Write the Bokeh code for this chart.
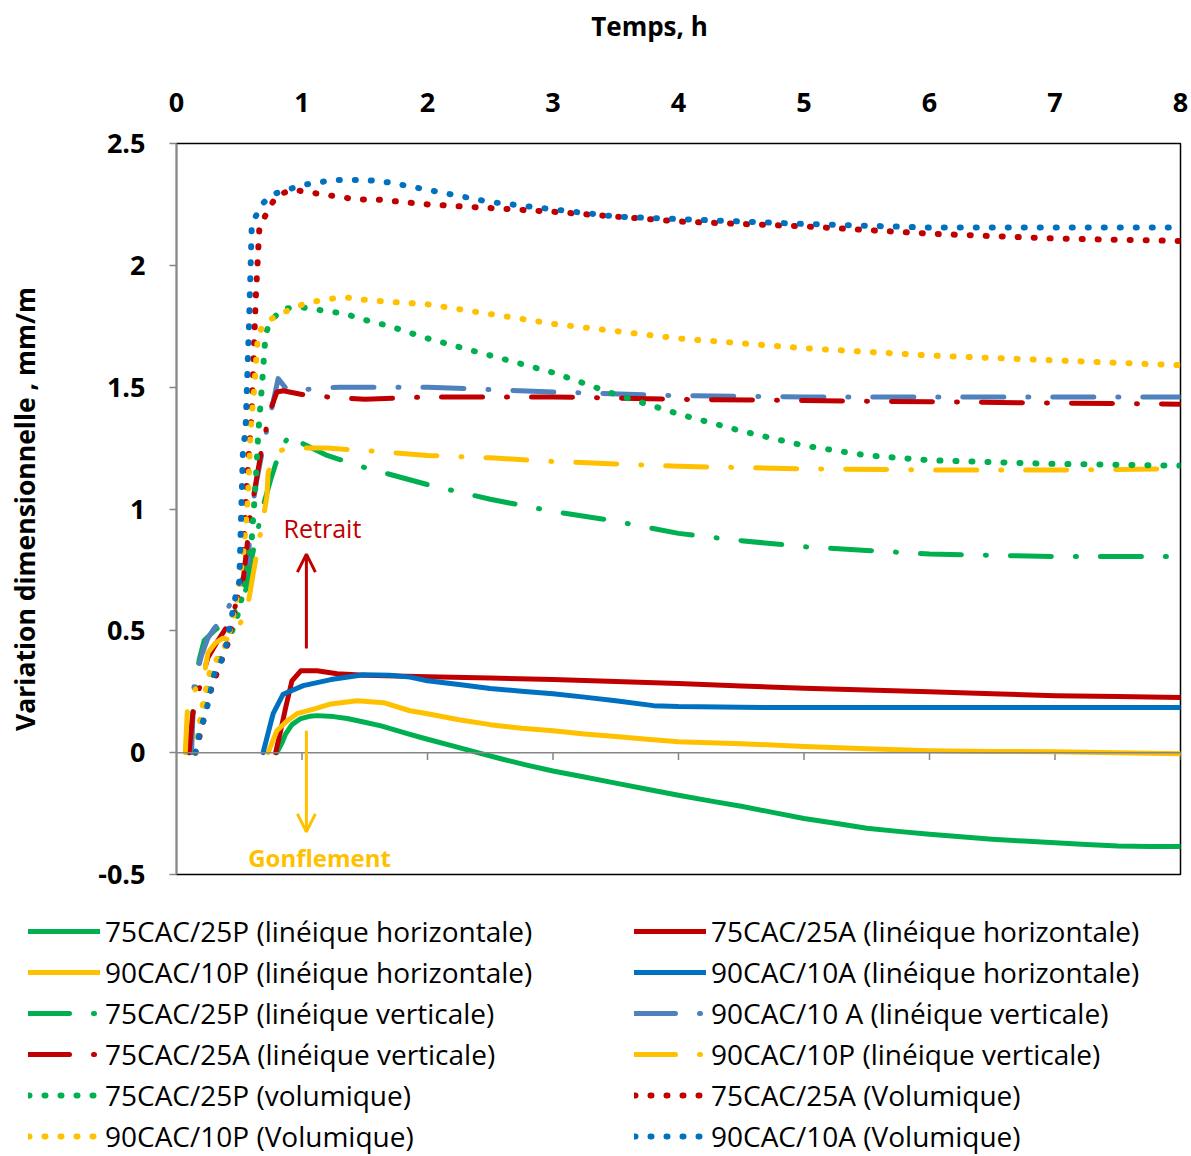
from bokeh.plotting import figure
from bokeh.models import (Range1d, FixedTicker, Span, Arrow, OpenHead, Label,
                          Legend, LegendItem, NumeralTickFormatter)
from bokeh.embed import file_html
from bokeh.resources import INLINE

# ---------------- data ----------------
X_TICKS = [0, 1, 2, 3, 4, 5, 6, 7, 8]
Y_TICKS = [-0.5, 0, 0.5, 1, 1.5, 2, 2.5]

# linear horizontal (solid)
t_25P_h = [0.80, 0.84, 0.87, 0.92, 0.99, 1.06, 1.12, 1.25, 1.36, 1.5, 1.63, 1.86, 2.0, 2.2, 2.4, 2.6, 2.8, 3.0,
           3.25, 3.5, 3.75, 4.0, 4.25, 4.5, 4.75, 5.0, 5.25, 5.5, 5.75, 6.0, 6.25, 6.5, 6.75, 7.0, 7.25, 7.5, 7.75, 8.0]
v_25P_h = [0.0, 0.04, 0.077, 0.115, 0.14, 0.149, 0.152, 0.148, 0.14, 0.125, 0.11, 0.075, 0.055, 0.028, 0.0, -0.027,
           -0.052, -0.075, -0.1, -0.125, -0.15, -0.175, -0.198, -0.22, -0.245, -0.27, -0.29, -0.31, -0.323, -0.335,
           -0.345, -0.355, -0.363, -0.37, -0.377, -0.383, -0.385, -0.385]

t_25A_h = [0.79, 0.83, 0.87, 0.92, 0.99, 1.12, 1.28, 1.5, 2.0, 2.5, 3.0, 3.5, 4.0, 4.5, 5.0, 5.5, 6.0, 6.5, 7.0, 7.5, 8.0]
v_25A_h = [0.0, 0.09, 0.185, 0.295, 0.336, 0.336, 0.324, 0.318, 0.312, 0.306, 0.3, 0.292, 0.284, 0.274, 0.264,
           0.257, 0.25, 0.242, 0.234, 0.23, 0.226]

t_10P_h = [0.73, 0.8, 0.88, 0.96, 1.1, 1.23, 1.44, 1.65, 1.86, 2.0, 2.25, 2.5, 2.75, 3.0, 3.25, 3.5, 3.75, 4.0,
           4.5, 5.0, 5.5, 6.0, 6.5, 7.0, 7.5, 8.0]
v_10P_h = [0.0, 0.09, 0.13, 0.16, 0.18, 0.2, 0.213, 0.205, 0.172, 0.16, 0.135, 0.115, 0.1, 0.09, 0.077, 0.066,
           0.055, 0.045, 0.037, 0.025, 0.016, 0.008, 0.005, 0.004, 0.0, -0.004]

t_10A_h = [0.69, 0.73, 0.77, 0.85, 1.01, 1.23, 1.49, 1.7, 1.86, 2.0, 2.25, 2.5, 2.75, 3.0, 3.25, 3.5, 3.8, 4.0,
           4.5, 5.0, 6.0, 7.0, 8.0]
v_10A_h = [0.0, 0.08, 0.16, 0.24, 0.275, 0.3, 0.32, 0.318, 0.31, 0.295, 0.28, 0.263, 0.252, 0.242, 0.228, 0.213,
           0.193, 0.189, 0.186, 0.185, 0.185, 0.185, 0.185]

# linear vertical (dash-dot)
t_25P_v = [0.1, 0.14, 0.18, 0.22, 0.3, 0.4, 0.5, 0.56, 0.6, 0.65, 0.7, 0.75, 0.8, 0.86, 0.91, 1.0, 1.2, 1.5, 2.0,
           2.5, 3.0, 3.5, 4.0, 4.5, 5.0, 5.5, 6.0, 6.5, 7.0, 8.0]
v_25P_v = [0.0, 0.22, 0.38, 0.46, 0.5, 0.54, 0.6, 0.68, 0.8, 0.92, 1.03, 1.12, 1.2, 1.27, 1.31, 1.27, 1.22, 1.17,
           1.1, 1.04, 0.99, 0.95, 0.9, 0.87, 0.845, 0.83, 0.815, 0.81, 0.805, 0.805]

t_10A_v = [0.12, 0.14, 0.2, 0.25, 0.3, 0.35, 0.45, 0.57, 0.59, 0.64, 0.7, 0.75, 0.81, 0.88, 1.0, 1.3, 2.0, 2.5,
           3.0, 4.0, 5.0, 6.0, 7.0, 8.0]
v_10A_v = [0.0, 0.28, 0.4, 0.47, 0.51, 0.54, 0.63, 0.76, 0.96, 1.12, 1.28, 1.39, 1.535, 1.49, 1.49, 1.5, 1.5,
           1.49, 1.48, 1.465, 1.46, 1.46, 1.46, 1.46]

t_25A_v = [0.1, 0.13, 0.19, 0.25, 0.33, 0.43, 0.53, 0.59, 0.62, 0.68, 0.75, 0.8, 0.85, 1.0, 1.2, 1.5, 2.0, 3.0,
           4.0, 5.0, 6.0, 7.0, 8.0]
v_25A_v = [0.0, 0.16, 0.28, 0.39, 0.46, 0.54, 0.7, 0.98, 1.07, 1.25, 1.41, 1.48, 1.485, 1.47, 1.46, 1.45, 1.46,
           1.46, 1.45, 1.445, 1.44, 1.435, 1.43]

t_10P_v = [0.07, 0.09, 0.15, 0.215, 0.25, 0.31, 0.37, 0.43, 0.5, 0.57, 0.6, 0.63, 0.68, 0.72, 0.73, 0.78, 0.83,
           0.9, 1.2, 1.5, 2.0, 2.5, 3.0, 3.5, 4.0, 5.0, 6.0, 7.0, 8.0]
v_10P_v = [0.0, 0.21, 0.26, 0.3, 0.41, 0.45, 0.47, 0.46, 0.52, 0.61, 0.7, 0.79, 0.93, 1.05, 1.15, 1.21, 1.24,
           1.25, 1.25, 1.24, 1.22, 1.21, 1.195, 1.185, 1.175, 1.165, 1.16, 1.16, 1.165]

# volumetric (dotted)
t_25P_vol = [0.15, 0.18, 0.24, 0.32, 0.4, 0.48, 0.55, 0.6, 0.63, 0.65, 0.68, 0.71, 0.75, 0.84, 0.97, 1.09, 1.23,
             1.35, 1.47, 1.7, 2.0, 2.5, 3.0, 3.5, 4.0, 4.5, 5.0, 5.5, 6.0, 7.0, 8.0]
v_25P_vol = [0.0, 0.1, 0.25, 0.36, 0.44, 0.55, 0.7, 0.88, 1.1, 1.3, 1.5, 1.72, 1.77, 1.82, 1.83, 1.82, 1.81, 1.80,
             1.78, 1.75, 1.7, 1.63, 1.56, 1.47, 1.39, 1.32, 1.26, 1.22, 1.2, 1.185, 1.178]

t_10P_vol = [0.15, 0.21, 0.27, 0.33, 0.4, 0.47, 0.53, 0.57, 0.59, 0.62, 0.65, 0.72, 0.83, 0.95, 1.08, 1.2, 1.33,
             1.46, 1.7, 2.0, 2.5, 3.0, 3.5, 4.0, 4.5, 5.0, 6.0, 7.0, 8.0]
v_10P_vol = [0.0, 0.2, 0.34, 0.39, 0.45, 0.6, 0.8, 1.05, 1.32, 1.5, 1.72, 1.77, 1.80, 1.83, 1.85, 1.86, 1.87, 1.86,
             1.85, 1.84, 1.80, 1.76, 1.73, 1.70, 1.68, 1.66, 1.63, 1.61, 1.59]

t_25A_vol = [0.15, 0.2, 0.27, 0.33, 0.41, 0.48, 0.53, 0.56, 0.6, 0.63, 0.66, 0.74, 0.81, 0.93, 1.05, 1.18, 1.31,
             1.44, 1.6, 2.0, 2.5, 3.0, 3.5, 4.0, 4.5, 5.0, 5.5, 6.0, 6.5, 7.0, 7.5, 8.0]
v_25A_vol = [0.0, 0.1, 0.25, 0.34, 0.45, 0.62, 0.8, 1.1, 1.4, 1.85, 2.15, 2.24, 2.29, 2.31, 2.3, 2.29, 2.28, 2.27,
             2.27, 2.25, 2.235, 2.22, 2.2, 2.18, 2.17, 2.16, 2.145, 2.13, 2.12, 2.11, 2.105, 2.1]

t_10A_vol = [0.15, 0.18, 0.25, 0.3, 0.37, 0.4, 0.47, 0.5, 0.53, 0.55, 0.58, 0.6, 0.68, 0.76, 0.88, 1.01, 1.13,
             1.25, 1.39, 1.52, 1.7, 2.0, 2.5, 3.0, 3.5, 4.0, 5.0, 6.0, 7.0, 8.0]
v_10A_vol = [0.0, 0.07, 0.2, 0.32, 0.39, 0.45, 0.64, 0.7, 1.25, 1.32, 1.8, 2.17, 2.25, 2.29, 2.31, 2.33, 2.34,
             2.35, 2.35, 2.35, 2.34, 2.31, 2.26, 2.23, 2.2, 2.19, 2.17, 2.155, 2.155, 2.155]

LABELS = [
    "75CAC/25P (linéique horizontale)", "75CAC/25A (linéique horizontale)",
    "90CAC/10P (linéique horizontale)", "90CAC/10A (linéique horizontale)",
    "75CAC/25P (linéique verticale)", "90CAC/10 A (linéique verticale)",
    "75CAC/25A (linéique verticale)", "90CAC/10P (linéique verticale)",
    "75CAC/25P (volumique)", "75CAC/25A (Volumique)",
    "90CAC/10P (Volumique)", "90CAC/10A (Volumique)",
]
X_TITLE = "Temps, h"
Y_TITLE = "Variation dimensionnelle , mm/m"

GREEN, RED, YELLOW, BLUE, STEEL = "#00B050", "#C00000", "#FFC000", "#0070C0", "#4F81BD"
GREY = "#868686"
FONT = "Open Sans"
W = 1191

series = [
    (t_25P_h, v_25P_h, GREEN, "solid"), (t_25A_h, v_25A_h, RED, "solid"),
    (t_10P_h, v_10P_h, YELLOW, "solid"), (t_10A_h, v_10A_h, BLUE, "solid"),
    (t_25P_v, v_25P_v, GREEN, "dashdot"), (t_10A_v, v_10A_v, STEEL, "dashdot"),
    (t_25A_v, v_25A_v, RED, "dashdot"), (t_10P_v, v_10P_v, YELLOW, "dashdot"),
    (t_25P_vol, v_25P_vol, GREEN, "dot"), (t_25A_vol, v_25A_vol, RED, "dot"),
    (t_10P_vol, v_10P_vol, YELLOW, "dot"), (t_10A_vol, v_10A_vol, BLUE, "dot"),
]


def styled_line(fig, t, v, c, style):
    if style == "solid":
        return fig.line(t, v, line_color=c, line_width=5, line_cap="round", line_join="round")
    if style == "dashdot":
        return fig.line(t, v, line_color=c, line_width=5, line_cap="round", line_join="round",
                        line_dash="41 24 1 24")
    return fig.line(t, v, line_color=c, line_width=6, line_cap="round", line_join="round",
                    line_dash="1 15")


def blank(height):
    f = figure(width=W, height=height, x_range=Range1d(0, W), y_range=Range1d(height, 0),
               x_axis_location=None, y_axis_location=None, output_backend="svg",
               toolbar_location=None, min_border=0, title=None)
    f.grid.visible = False
    f.outline_line_color = None
    f.background_fill_color = "white"
    f.border_fill_color = "white"
    return f


# ---------------- header (x-axis title) ----------------
HEAD_H = 60
head = blank(HEAD_H)
head.add_layout(Label(x=649, y=25, text=X_TITLE, text_align="center", text_baseline="middle",
                      text_font=FONT, text_font_size="26px", text_font_style="bold", text_color="black"))

# ---------------- chart figure ----------------
p = figure(width=W, height=842, x_range=Range1d(0, 8), y_range=Range1d(-0.5, 2.5),
           x_axis_location="above", output_backend="svg", toolbar_location=None, title=None,
           min_border_left=176, min_border_right=11, min_border_top=83, min_border_bottom=28)
p.grid.visible = False
p.outline_line_color = "black"
p.outline_line_width = 1.5
p.background_fill_color = "white"
p.border_fill_color = "white"

xa = p.xaxis[0]
xa.ticker = FixedTicker(ticks=X_TICKS)
xa.major_tick_out = 0
xa.major_tick_in = 0
xa.minor_tick_line_color = None
xa.axis_line_color = None
xa.major_label_standoff = 32
xa.major_label_text_font = FONT
xa.major_label_text_font_size = "27px"
xa.major_label_text_font_style = "bold"
xa.major_label_text_color = "black"

ya = p.yaxis[0]
ya.ticker = FixedTicker(ticks=Y_TICKS)
ya.formatter = NumeralTickFormatter(format="0.[0]")
ya.axis_line_color = GREY
ya.axis_line_width = 1.5
ya.major_tick_line_color = GREY
ya.major_tick_line_width = 1.5
ya.major_tick_out = 7
ya.major_tick_in = 0
ya.minor_tick_line_color = None
ya.major_label_standoff = 24
ya.major_label_text_font = FONT
ya.major_label_text_font_size = "27px"
ya.major_label_text_font_style = "bold"
ya.major_label_text_color = "black"
ya.axis_label = Y_TITLE
ya.axis_label_standoff = 52
ya.axis_label_text_font = FONT
ya.axis_label_text_font_size = "26.5px"
ya.axis_label_text_font_style = "bold"
ya.axis_label_text_color = "black"

# zero line with its ticks
p.add_layout(Span(location=0, dimension="width", line_color=GREY, line_width=1.5))
zt = [t for t in X_TICKS if t > 0]
p.segment(x0=zt, y0=[0] * len(zt), x1=zt, y1=[-0.03] * len(zt), line_color=GREY, line_width=1.5)

for (t, v, c, style) in series:
    styled_line(p, t, v, c, style)

# annotations
ARROW_X = 1.035
p.add_layout(Arrow(end=OpenHead(line_color=RED, line_width=3, size=18),
                   x_start=ARROW_X, y_start=0.427, x_end=ARROW_X, y_end=0.815,
                   line_color=RED, line_width=3))
p.add_layout(Arrow(end=OpenHead(line_color=YELLOW, line_width=3, size=18),
                   x_start=ARROW_X, y_start=0.09, x_end=ARROW_X, y_end=-0.325,
                   line_color=YELLOW, line_width=3))
p.add_layout(Label(x=1.163, y=0.922, text="Retrait", text_align="center", text_baseline="middle",
                   text_font=FONT, text_font_size="25px", text_color=RED))
p.add_layout(Label(x=1.14, y=-0.432, text="Gonflement", text_align="center", text_baseline="middle",
                   text_font=FONT, text_font_size="24px", text_font_style="bold", text_color=YELLOW))

# ---------------- legend figure ----------------
LEG_H = 254
q = blank(LEG_H)
# legend samples: same styles, data lying outside the visible ranges
legend_renderers = [styled_line(q, [-20, -10], [-20, -10], c, style) for (_, _, c, style) in series]
items = [LegendItem(label=lab, renderers=[r]) for lab, r in zip(LABELS, legend_renderers)]
legend = Legend(items=items, location=(28, 1), orientation="horizontal", ncols=2,
                glyph_width=72, glyph_height=20, label_standoff=5, label_width=526, spacing=3,
                padding=0, margin=0, border_line_color=None, background_fill_alpha=0,
                label_text_font=FONT, label_text_font_size="28px", label_text_color="black")
q.add_layout(legend)

open("out.html", "w").write(file_html([head, p, q], INLINE))
